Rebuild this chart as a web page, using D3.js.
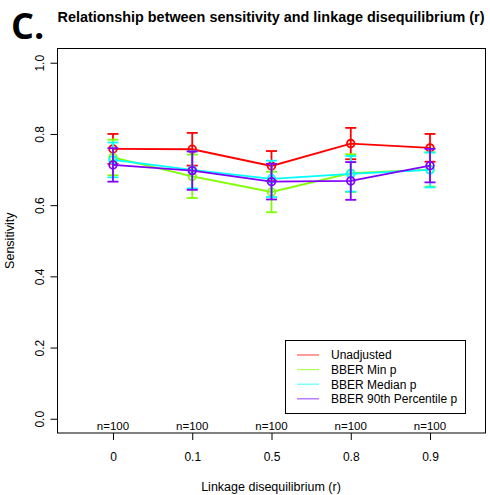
<!DOCTYPE html>
<html><head><meta charset="utf-8">
<script src="https://cdn.jsdelivr.net/npm/d3@7"></script>
<style>body{margin:0;background:#fff}svg{display:block}text{font-family:"Liberation Sans",Arial,Helvetica,sans-serif}</style>
</head><body><svg id="c" width="490" height="495"></svg>
<script>
const categories = ["0", "0.1", "0.5", "0.8", "0.9"];
const nLabels = ["n=100", "n=100", "n=100", "n=100", "n=100"];
const yTicks = [0, 0.2, 0.4, 0.6, 0.8, 1.0];
const seriesNames = ["Unadjusted", "BBER Min p", "BBER Median p", "BBER 90th Percentile p"];
const seriesColors = ["#FF0000", "#80FF00", "#00FFFF", "#8000FF"];
const unadjusted = [0.758, 0.757, 0.710, 0.773, 0.761];
const unadjustedErr = [0.042, 0.046, 0.042, 0.044, 0.039];
const minP = [0.734, 0.681, 0.637, 0.690, 0.700];
const minPErr = [0.050, 0.061, 0.057, 0.053, 0.048];
const medianP = [0.727, 0.699, 0.674, 0.688, 0.699];
const medianPErr = [0.049, 0.052, 0.051, 0.050, 0.049];
const p90 = [0.713, 0.697, 0.666, 0.668, 0.711];
const p90Err = [0.047, 0.054, 0.050, 0.053, 0.047];

const seriesVals = [unadjusted, minP, medianP, p90];
const seriesErrs = [unadjustedErr, minPErr, medianPErr, p90Err];

const svg = d3.select("#c");
const L = 57.5, R = 485.5, T = 48.5, B = 433;
const x = d3.scalePoint().domain(categories).range([L, R]).padding(0.7);
const y = d3.scaleLinear().domain([-0.04, 1.04]).range([B, T]);

// title
svg.append("text").attr("x", 11).attr("y", 39).attr("font-size", 36).attr("font-weight", 700)
  .style("font-family", "'Open Sans',sans-serif").text("C.");
svg.append("text").attr("x", 271).attr("y", 22).attr("text-anchor", "middle")
  .attr("font-size", 14.4).attr("font-weight", 700).text("Relationship between sensitivity and linkage disequilibrium (r)");

// series
seriesVals.forEach((vals, si) => {
  const col = seriesColors[si];
  const g = svg.append("g");
  const errs = seriesErrs[si];
  const line = d3.line().x((d, i) => x(categories[i])).y(d => y(d));
  g.append("path").datum(vals).attr("d", line).attr("fill", "none").attr("stroke", col).attr("stroke-width", 1.8);
  vals.forEach((v, i) => {
    const cx = x(categories[i]);
    const lo = y(v - errs[i]), hi = y(v + errs[i]);
    g.append("line").attr("x1", cx).attr("x2", cx).attr("y1", lo).attr("y2", hi).attr("stroke", col).attr("stroke-width", 1.8);
    g.append("line").attr("x1", cx - 5.5).attr("x2", cx + 5.5).attr("y1", lo).attr("y2", lo).attr("stroke", col).attr("stroke-width", 1.8);
    g.append("line").attr("x1", cx - 5.5).attr("x2", cx + 5.5).attr("y1", hi).attr("y2", hi).attr("stroke", col).attr("stroke-width", 1.8);
    g.append("circle").attr("cx", cx).attr("cy", y(v)).attr("r", 3.8).attr("fill", "none").attr("stroke", col).attr("stroke-width", 1.8);
  });
});

// box
svg.append("rect").attr("x", L).attr("y", T).attr("width", R - L).attr("height", B - T)
  .attr("fill", "none").attr("stroke", "#000").attr("stroke-width", 1);

// y axis
const ya = svg.append("g").attr("transform", `translate(${L},0)`)
  .call(d3.axisLeft(y).tickValues(yTicks).tickSize(7).tickFormat(d3.format(".1f")));
ya.select(".domain").remove();
ya.selectAll("text").attr("font-size", 12).attr("fill", "#000").attr("transform", "rotate(-90)")
  .attr("text-anchor", "middle").attr("x", 0).attr("y", -14).attr("dy", null);
ya.selectAll("line").attr("stroke", "#000");

// x axis
const xa = svg.append("g").attr("transform", `translate(0,${B})`)
  .call(d3.axisBottom(x).tickSize(7));
xa.select(".domain").remove();
xa.selectAll("text").attr("font-size", 12).attr("fill", "#000").attr("y", 19).attr("dy", "0.71em");
xa.selectAll("line").attr("stroke", "#000");

// n labels
svg.append("g").selectAll("text").data(nLabels).join("text")
  .attr("x", (d, i) => x(categories[i])).attr("y", 430).attr("text-anchor", "middle")
  .attr("font-size", 11.5).text(d => d);

// axis titles
svg.append("text").attr("x", 271).attr("y", 491).attr("text-anchor", "middle").attr("font-size", 12.5)
  .text("Linkage disequilibrium (r)");
svg.append("text").attr("transform", `translate(14,${(T + B) / 2}) rotate(-90)`).attr("text-anchor", "middle")
  .attr("font-size", 12.5).text("Sensitivity");

// legend
const lg = svg.append("g");
lg.append("rect").attr("x", 285.5).attr("y", 340.5).attr("width", 180).attr("height", 73)
  .attr("fill", "#fff").attr("stroke", "#000").attr("stroke-width", 1);
seriesNames.forEach((nm, i) => {
  const yy = 355 + i * 14.6;
  lg.append("line").attr("x1", 297).attr("x2", 319).attr("y1", yy).attr("y2", yy)
    .attr("stroke", seriesColors[i]).attr("stroke-width", 1.3).attr("stroke-opacity", 0.6);
  lg.append("text").attr("x", 331).attr("y", yy + 4.3).attr("font-size", 12).text(nm);
});
</script></body></html>
